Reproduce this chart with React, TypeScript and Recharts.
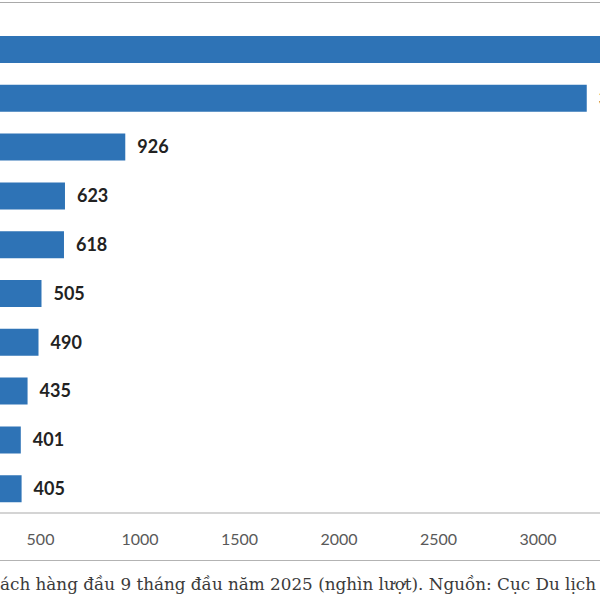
import React from 'react'
import { BarChart, Bar, XAxis, YAxis, LabelList } from 'recharts'

// top 10 source markets, first 9 months of 2025 (thousand arrivals)
const markets = [
  'Trung Quốc',
  'Hàn Quốc',
  'Đài Loan (Trung Quốc)',
  'Mỹ',
  'Nhật Bản',
  'Ấn Độ',
  'Campuchia',
  'Úc',
  'Malaysia',
  'Thái Lan',
]
const arrivals = [3960, 3245, 926, 623, 618, 505, 490, 435, 401, 405]
// only the ticks that fall inside the visible crop
const xTicks = [500, 1000, 1500, 2000, 2500, 3000]

const captionHidden = 'Biểu đồ: 10 thị trường kh'
const captionShown = 'ách hàng đầu 9 tháng đầu năm 2025 (nghìn lượt). Nguồn: Cục Du lịch Quốc gia Việt Nam'

const chartData = markets.map((name, i) => ({ name, value: arrivals[i] }))

const blue = '#2e73b6'
const sans = 'Lato, "Open Sans", sans-serif'

const App: React.FC = () => {
  return (
    <div
      style={{
        position: 'fixed',
        top: 0,
        left: 0,
        width: 600,
        height: 600,
        overflow: 'hidden',
        background: '#fff',
      }}
    >
      <div style={{ position: 'absolute', top: 2, left: 0, width: 600, height: 1, background: '#a9a9a9' }} />

      <div style={{ position: 'absolute', top: 0, left: -59 }}>
        <BarChart
          width={800}
          height={561}
          layout="vertical"
          data={chartData}
          margin={{ top: 25, right: 4, bottom: 0, left: 0 }}
          barCategoryGap={0}
        >
          <XAxis
            type="number"
            domain={[0, 4000]}
            ticks={xTicks}
            height={48}
            axisLine={{ stroke: '#c6c6c6', strokeWidth: 1.5 }}
            tickLine={false}
            tickMargin={15}
            tick={{ fill: '#595959', fontSize: 16, fontFamily: sans }}
            interval={0}
          />
          <YAxis type="category" dataKey="name" hide />
          <Bar dataKey="value" fill={blue} barSize={27} isAnimationActive={false}>
            <LabelList
              dataKey="value"
              position="right"
              offset={12}
              fill="#222"
              fontSize={18}
              fontWeight="bold"
              fontFamily={sans}
            />
          </Bar>
        </BarChart>
      </div>

      <div style={{ position: 'absolute', top: 560, left: 0, width: 600, height: 1, background: '#b3b3b3' }} />

      <div
        style={{
          position: 'absolute',
          top: 574,
          left: 0,
          whiteSpace: 'nowrap',
          fontFamily: '"DejaVu Serif", serif',
          fontSize: 16.8,
          lineHeight: '20px',
          color: '#3b3b3b',
        }}
      >
        <span style={{ position: 'absolute', right: '100%' }}>{captionHidden}</span>
        {captionShown}
      </div>
    </div>
  )
}

export default App
